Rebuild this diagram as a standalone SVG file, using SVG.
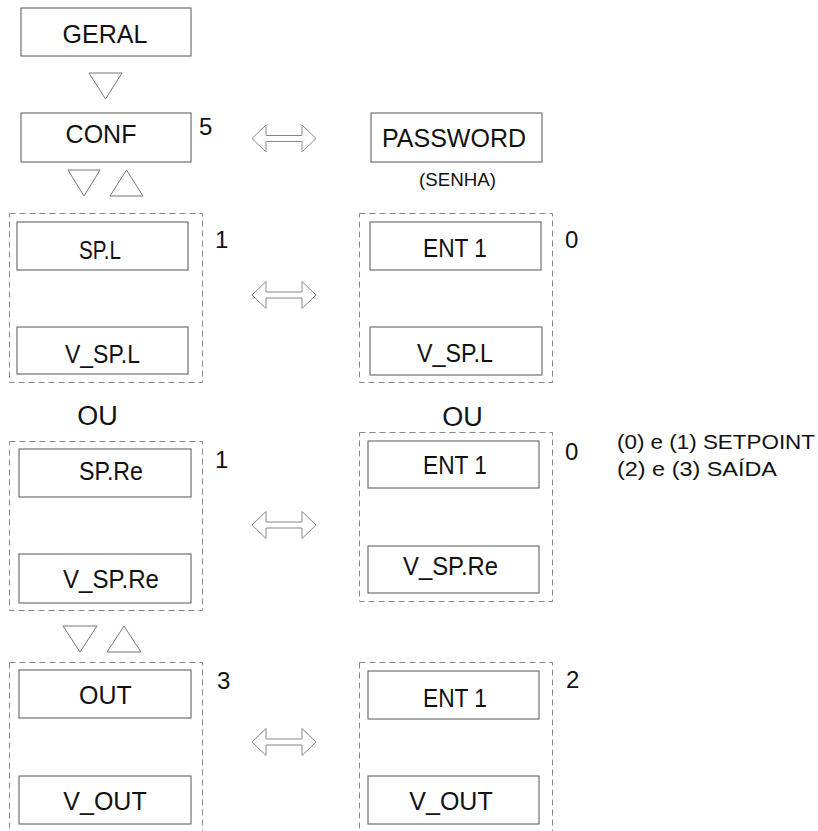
<svg xmlns="http://www.w3.org/2000/svg" width="818" height="831" viewBox="0 0 818 831">
<style>
.bg{fill:#fff}
.box{fill:#fff;stroke:#555;stroke-width:1}
.grp{fill:none;stroke:#888;stroke-width:1;stroke-dasharray:6 4}
.t{font-family:"Liberation Sans",Arial,sans-serif;font-size:25px;fill:#111;text-anchor:middle}
.n{font-family:"Liberation Sans",Arial,sans-serif;font-size:24px;fill:#111}
.s{font-family:"Liberation Sans",Arial,sans-serif;font-size:18px;fill:#111;text-anchor:middle}
.lg{font-family:"Liberation Sans",Arial,sans-serif;font-size:21px;fill:#111}
.ou{font-family:"Liberation Sans",Arial,sans-serif;font-size:27px;fill:#111;text-anchor:middle}
.tri{fill:#fff;stroke:#777;stroke-width:1}
.dbl{fill:#fff;stroke:#888;stroke-width:1}
</style>
<defs>
<path id="dbl" d="M0,0 L14,-13.5 L14,-3 L50,-3 L50,-13.5 L64,0 L50,13.5 L50,3 L14,3 L14,13.5 Z"/>
</defs>
<rect class="bg" x="0" y="0" width="818" height="831"/>

<g id="geral"><rect class="box" x="21" y="8" width="170" height="48"/><text class="t" x="105" y="43">GERAL</text></g>
<g id="conf"><rect class="box" x="21" y="113" width="170" height="49"/><text class="t" x="101" y="143">CONF</text><text class="n" x="199" y="135">5</text></g>
<g id="password"><rect class="box" x="371" y="113" width="171" height="49"/><text class="t" x="454" y="147">PASSWORD</text><text class="s" x="457.5" y="186" textLength="77" lengthAdjust="spacingAndGlyphs">(SENHA)</text></g>

<g id="grp-spl">
<rect class="grp" x="9.5" y="213.5" width="193" height="169"/>
<rect class="box" x="17" y="222" width="171" height="48"/><text class="t" x="100" y="259" textLength="42" lengthAdjust="spacingAndGlyphs">SP.L</text>
<rect class="box" x="17" y="327" width="171" height="47"/><text class="t" x="102.5" y="363" textLength="75" lengthAdjust="spacingAndGlyphs">V_SP.L</text>
<text class="n" x="215" y="248">1</text>
</g>
<g id="grp-ent-spl">
<rect class="grp" x="359.5" y="213.5" width="193" height="169"/>
<rect class="box" x="370" y="222" width="171" height="48"/><text class="t" x="455" y="257" textLength="64" lengthAdjust="spacingAndGlyphs">ENT 1</text>
<rect class="box" x="370" y="327" width="172" height="48"/><text class="t" x="455" y="362" textLength="76" lengthAdjust="spacingAndGlyphs">V_SP.L</text>
<text class="n" x="565" y="248">0</text>
</g>

<text class="ou" x="97.5" y="425">OU</text>
<text class="ou" x="462.5" y="426">OU</text>

<g id="grp-spre">
<rect class="grp" x="9.5" y="441.5" width="193" height="169"/>
<rect class="box" x="19" y="449" width="172" height="48"/><text class="t" x="111" y="480" textLength="64" lengthAdjust="spacingAndGlyphs">SP.Re</text>
<rect class="box" x="19" y="554" width="172" height="49"/><text class="t" x="111" y="588" textLength="96" lengthAdjust="spacingAndGlyphs">V_SP.Re</text>
<text class="n" x="215" y="468">1</text>
</g>
<g id="grp-ent-spre">
<rect class="grp" x="359.5" y="432.5" width="193" height="169"/>
<rect class="box" x="368" y="441" width="171" height="47"/><text class="t" x="455" y="474" textLength="64" lengthAdjust="spacingAndGlyphs">ENT 1</text>
<rect class="box" x="368" y="546" width="171" height="47"/><text class="t" x="450.5" y="575" textLength="95" lengthAdjust="spacingAndGlyphs">V_SP.Re</text>
<text class="n" x="565" y="460">0</text>
</g>

<g id="legend">
<text class="lg" x="617" y="449" textLength="198" lengthAdjust="spacingAndGlyphs">(0) e (1) SETPOINT</text>
<text class="lg" x="617" y="476" textLength="160" lengthAdjust="spacingAndGlyphs">(2) e (3) SAÍDA</text>
</g>

<g id="grp-out">
<rect class="grp" x="9.5" y="662.5" width="193" height="190"/>
<rect class="box" x="19" y="670" width="172" height="48"/><text class="t" x="105.5" y="704">OUT</text>
<rect class="box" x="19" y="776" width="172" height="48"/><text class="t" x="105" y="810">V_OUT</text>
<text class="n" x="217" y="689">3</text>
</g>
<g id="grp-ent-out">
<rect class="grp" x="359.5" y="662.5" width="193" height="190"/>
<rect class="box" x="368" y="671" width="171" height="48"/><text class="t" x="455" y="707" textLength="64" lengthAdjust="spacingAndGlyphs">ENT 1</text>
<rect class="box" x="368" y="776" width="171" height="48"/><text class="t" x="451" y="810">V_OUT</text>
<text class="n" x="566" y="688">2</text>
</g>

<g id="connectors">
<polygon class="tri" points="89,73 122,73 105.5,99"/>
<polygon class="tri" points="68,170 100,170 84,196"/>
<polygon class="tri" points="110,196 143,196 126.5,170"/>
<polygon class="tri" points="63,626 97,626 80,652"/>
<polygon class="tri" points="107,652 141,652 124,626"/>
<use href="#dbl" class="dbl" x="252" y="138.5"/>
<use href="#dbl" class="dbl" x="252" y="295"/>
<use href="#dbl" class="dbl" x="252" y="525"/>
<use href="#dbl" class="dbl" x="252" y="742"/>
</g>
</svg>
